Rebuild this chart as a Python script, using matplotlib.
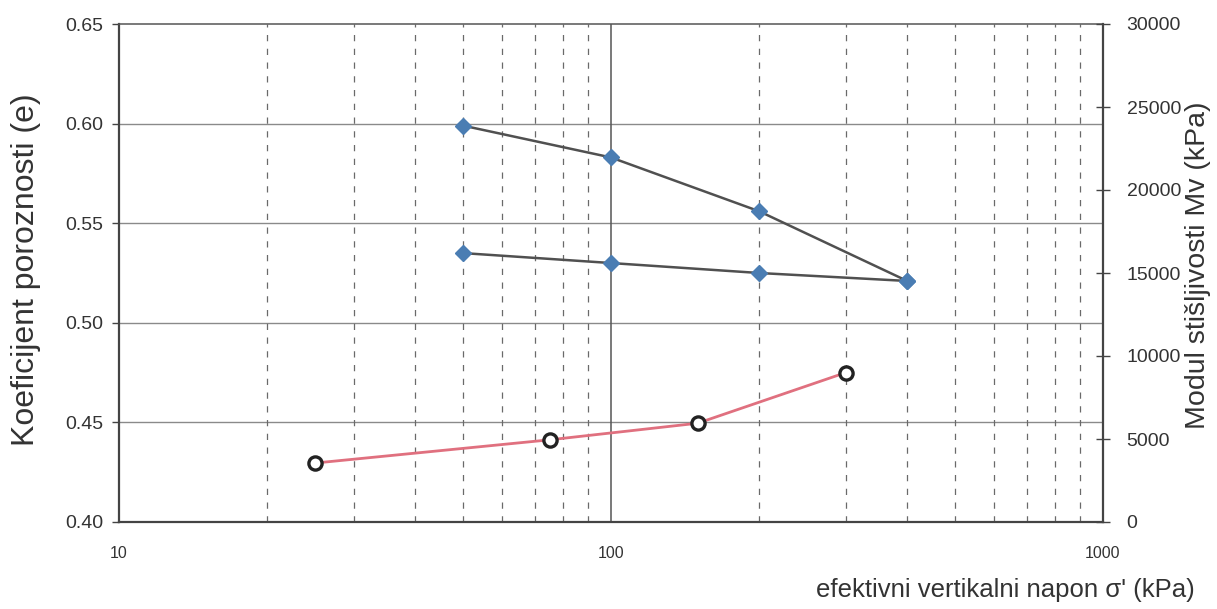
import matplotlib
matplotlib.use("Agg")
import matplotlib.pyplot as plt
from matplotlib.ticker import FixedLocator, NullFormatter

plt.rcParams['font.family'] = ['Liberation Sans', 'DejaVu Sans']

# --- data ---
sigma_load = [50, 100, 200, 400]
e_load = [0.599, 0.583, 0.556, 0.521]
sigma_unload = [50, 100, 200, 400]
e_unload = [0.535, 0.530, 0.525, 0.521]
sigma_mid = [25, 75, 150, 300]
mv = [3550, 4950, 5950, 9000]

left_ticks = [0.40, 0.45, 0.50, 0.55, 0.60, 0.65]
right_ticks = [0, 5000, 10000, 15000, 20000, 25000, 30000]
x_ticks = [10, 100, 1000]
minor_x = [20, 30, 40, 50, 60, 70, 80, 90, 200, 300, 400, 500, 600, 700, 800, 900]

W, H = 1217, 609
fig = plt.figure(figsize=(W / 100, H / 100), dpi=100)
ax = fig.add_axes([119 / W, 1 - 522 / H, (1103 - 119) / W, (522 - 24) / H])

ax.set_xscale('log')
ax.set_xlim(10, 1000)
ax.set_ylim(0.40, 0.65)

# grid
for yv in left_ticks[1:-1]:
    ax.axhline(yv, color='#8a8a8a', lw=1.0, zorder=1)
for xv in minor_x:
    ax.axvline(xv, color='#6a6a6a', lw=0.9, ls=(0, (5, 6)), zorder=1)
ax.axvline(100, color='#555555', lw=1.1, zorder=1)

ax.plot(sigma_load, e_load, color='#505050', lw=1.8, marker='D', ms=8,
        mfc='#4a7db3', mec='#4a7db3', zorder=3)
ax.plot(sigma_unload, e_unload, color='#505050', lw=1.8, marker='D', ms=8,
        mfc='#4a7db3', mec='#4a7db3', zorder=3)

ax.yaxis.set_major_locator(FixedLocator(left_ticks))
ax.set_yticklabels([f"{v:.2f}" for v in left_ticks])
ax.xaxis.set_major_locator(FixedLocator(x_ticks))
ax.xaxis.set_minor_locator(FixedLocator(minor_x))
ax.xaxis.set_minor_formatter(NullFormatter())
ax.set_xticklabels([str(v) for v in x_ticks])
ax.tick_params(axis='y', direction='out', length=5, width=1, pad=6,
               labelsize=14, labelcolor='#333333', color='#444444')
ax.tick_params(axis='x', which='both', length=0, pad=17, labelsize=11.5,
               labelcolor='#333333')

for s in ['left', 'bottom']:
    ax.spines[s].set_linewidth(1.6)
    ax.spines[s].set_color('#444444')
for s in ['top', 'right']:
    ax.spines[s].set_linewidth(1.1)
    ax.spines[s].set_color('#555555')

ax2 = ax.twinx()
ax2.set_ylim(0, 30000)
ax2.plot(sigma_mid, mv, color='#e0707f', lw=2.0, marker='o', ms=9.5,
         mfc='white', mec='#222222', mew=2.4, zorder=4)
ax2.yaxis.set_major_locator(FixedLocator(right_ticks))
ax2.set_yticklabels([str(v) for v in right_ticks])
ax2.tick_params(axis='y', direction='inout', length=10, width=1, pad=12,
                labelsize=14, labelcolor='#333333', color='#444444')
ax2.spines['right'].set_linewidth(1.6)
ax2.spines['right'].set_color('#444444')
for s in ['left', 'bottom', 'top']:
    ax2.spines[s].set_visible(False)

fig.text(26 / W, 1 - 270 / H, 'Koeficijent poroznosti (e)', rotation=90,
         ha='center', va='center', fontsize=23, color='#333333')
fig.text(1198 / W, 1 - 265 / H, 'Modul stišljivosti Mv (kPa)', rotation=90,
         ha='center', va='center', fontsize=20.5, color='#333333')
fig.text(1195 / W, 1 - 590 / H, "efektivni vertikalni napon σ' (kPa)",
         ha='right', va='center', fontsize=18.5, color='#333333')

fig.savefig('out.png', dpi=100, facecolor='white')
